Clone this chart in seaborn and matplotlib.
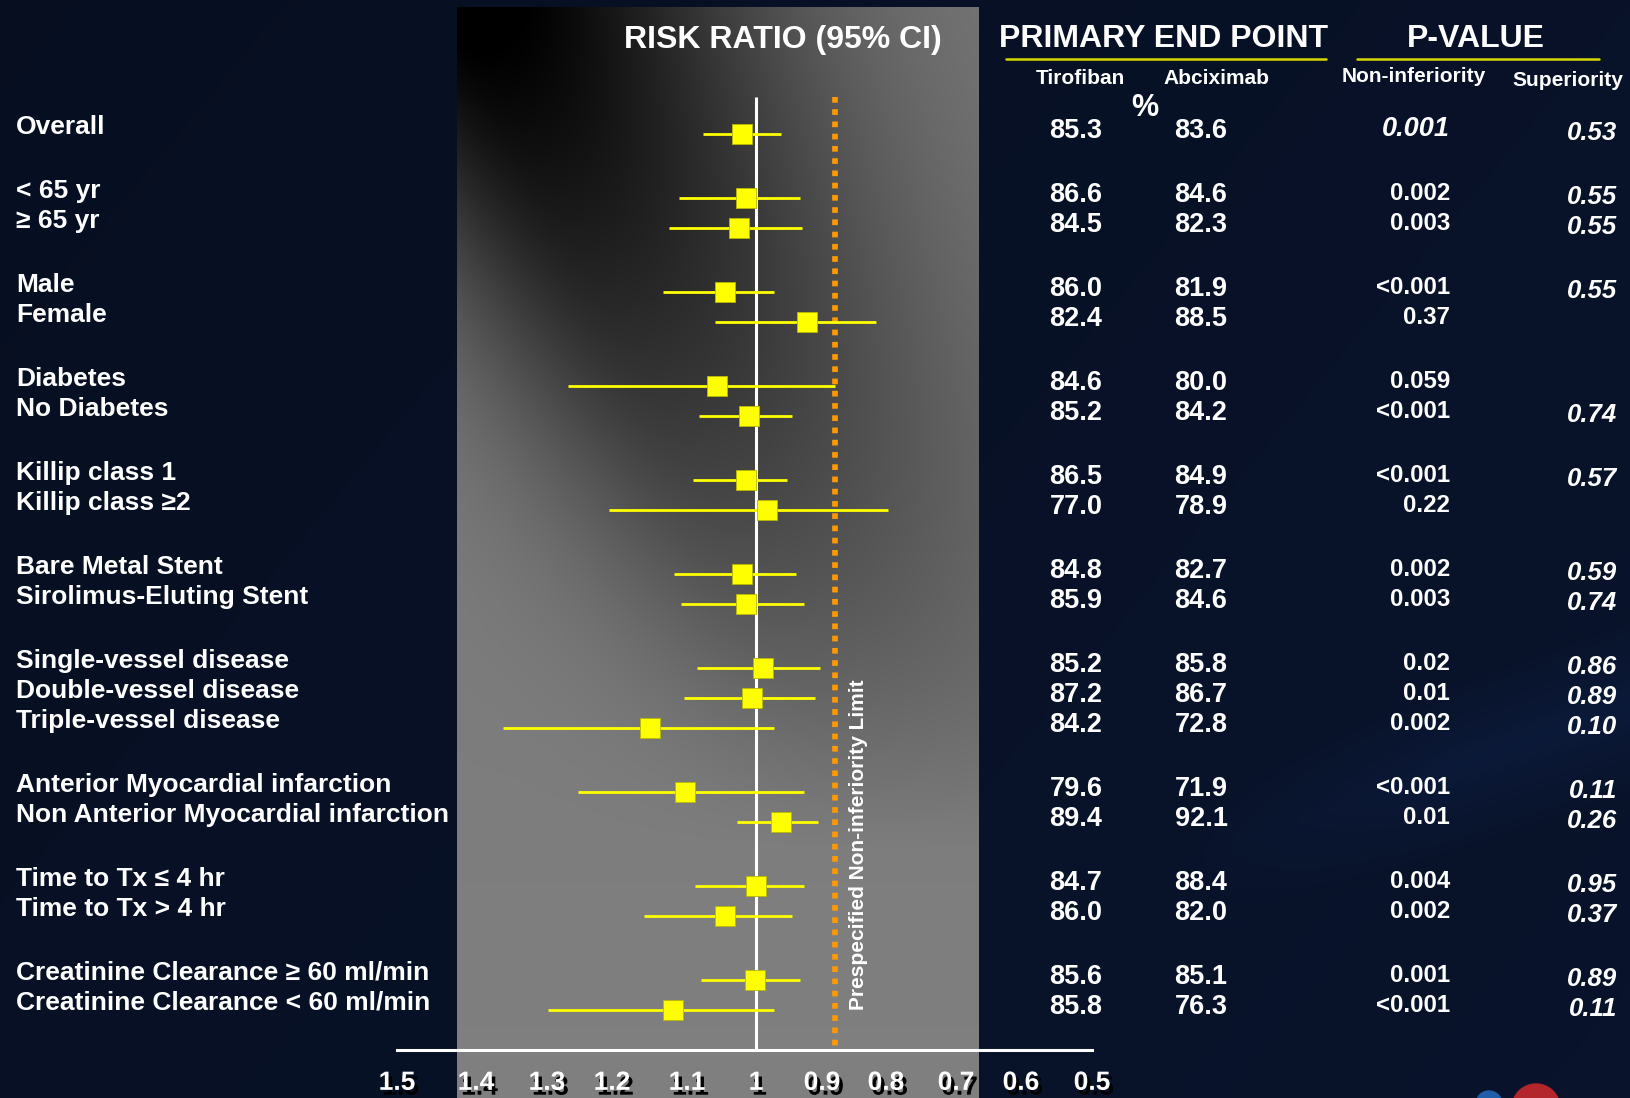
import numpy as np
import pandas as pd
import matplotlib
matplotlib.use("Agg")
import matplotlib.pyplot as plt
import matplotlib.patheffects as pe
from matplotlib.patches import Circle
import seaborn as sns

# ---------------------------------------------------------------- data
subgroups = [
    "Overall",
    "< 65 yr", "≥ 65 yr",
    "Male", "Female",
    "Diabetes", "No Diabetes",
    "Killip class 1", "Killip class ≥2",
    "Bare Metal Stent", "Sirolimus-Eluting Stent",
    "Single-vessel disease", "Double-vessel disease", "Triple-vessel disease",
    "Anterior Myocardial infarction", "Non Anterior Myocardial infarction",
    "Time to Tx ≤ 4 hr", "Time to Tx > 4 hr",
    "Creatinine Clearance ≥ 60 ml/min", "Creatinine Clearance < 60 ml/min",
]
group_sizes = [1, 2, 2, 2, 2, 2, 3, 2, 2, 2]

risk_ratio = [1.020, 1.015, 1.024, 1.045, 0.923, 1.056, 1.010, 1.015, 0.984,
              1.021, 1.015, 0.989, 1.006, 1.149, 1.103, 0.962, 1.000, 1.045,
              1.002, 1.119]
ci_upper = [1.077, 1.111, 1.124, 1.132, 1.059, 1.268, 1.083, 1.091, 1.205,
            1.118, 1.108, 1.086, 1.104, 1.362, 1.252, 1.027, 1.088, 1.157,
            1.080, 1.298]
ci_lower = [0.962, 0.933, 0.931, 0.973, 0.815, 0.880, 0.945, 0.953, 0.797,
            0.939, 0.928, 0.903, 0.911, 0.972, 0.928, 0.906, 0.927, 0.945,
            0.934, 0.972]

tirofiban = ["85.3", "86.6", "84.5", "86.0", "82.4", "84.6", "85.2", "86.5",
             "77.0", "84.8", "85.9", "85.2", "87.2", "84.2", "79.6", "89.4",
             "84.7", "86.0", "85.6", "85.8"]
abciximab = ["83.6", "84.6", "82.3", "81.9", "88.5", "80.0", "84.2", "84.9",
             "78.9", "82.7", "84.6", "85.8", "86.7", "72.8", "71.9", "92.1",
             "88.4", "82.0", "85.1", "76.3"]
p_noninferiority = ["0.001", "0.002", "0.003", "<0.001", "0.37", "0.059",
                    "<0.001", "<0.001", "0.22", "0.002", "0.003", "0.02",
                    "0.01", "0.002", "<0.001", "0.01", "0.004", "0.002",
                    "0.001", "<0.001"]
p_superiority = ["0.53", "0.55", "0.55", "0.55", "", "", "0.74", "0.57", "",
                 "0.59", "0.74", "0.86", "0.89", "0.10", "0.11", "0.26",
                 "0.95", "0.37", "0.89", "0.11"]

ni_limit = 0.88
tick_values = [1.5, 1.4, 1.3, 1.2, 1.1, 1.0, 0.9, 0.8, 0.7, 0.6, 0.5]
tick_labels = ["1.5", "1.4", "1.3", "1.2", "1.1", "1", "0.9", "0.8", "0.7",
               "0.6", "0.5"]

# ---------------------------------------------------------------- layout
W, H = 1630, 1098
FONT = ["Liberation Sans", "DejaVu Sans"]

# hand-ruled axis: pixel column of every tick (1.5 ... 0.5)
axis_px = np.array([397, 476, 547, 612, 687, 756, 822, 886, 956, 1021, 1092],
                   dtype=float)
_vals_asc = np.array(tick_values[::-1])
_neg_px_asc = -axis_px[::-1]


def ruler_forward(v):
    return np.interp(v, _vals_asc, _neg_px_asc, left=-axis_px[-1] - 1, right=-axis_px[0] + 1)


def ruler_inverse(u):
    return np.interp(u, _neg_px_asc, _vals_asc)


# row positions (pixels from top): fixed pitch inside a group, wider gap between groups
ypos = []
y = 134.0
for g, n in enumerate(group_sizes):
    if g > 0:
        y += 64.0
    for i in range(n):
        if i > 0:
            y += 30.0
        ypos.append(y)

df = pd.DataFrame({
    "subgroup": subgroups, "rr": risk_ratio, "lo": ci_lower, "hi": ci_upper,
    "y": ypos,
})

sns.set_style("dark")
plt.rcParams["font.family"] = FONT
plt.rcParams["font.weight"] = "bold"

fig = plt.figure(figsize=(W / 100, H / 100), dpi=100)

# background canvas in pixel units
bg = fig.add_axes([0, 0, 1, 1])
bg.set_xlim(0, W)
bg.set_ylim(H, 0)
bg.axis("off")

# navy backdrop
yy, xx = np.mgrid[0:H, 0:W].astype(float)
base = np.array([0.033, 0.072, 0.160])
shade = 0.80 + 0.18 * (xx / W) + 0.10 * (yy / H)
streak = np.clip(1 - np.abs((yy - 820) + 0.35 * (xx - 1300)) / 90.0, 0, 1) * (xx > 1150)
shade = shade + 0.35 * streak * np.clip((xx - 1150) / 300, 0, 1)
navy = np.clip(base[None, None, :] * shade[..., None], 0, 1)
bg.imshow(navy, extent=(0, W, H, 0), aspect="auto", zorder=0)

# grey panel behind the plot, dark diagonal sweep from the upper left
px0, px1, py0 = 457, 979, 7
ph, pw = H - py0, px1 - px0
gy, gx = np.mgrid[0:ph, 0:pw].astype(float)
gx_abs = gx + px0
gy_abs = gy + py0
xc = px0 + 0.52 * (gy_abs - py0)
d = gx_abs - xc
width = np.where(d >= 0, 300.0, 180.0)
amp = 0.5 * np.clip(1 - gy_abs / 850.0, 0, 1)
grey = 0.5 - 0.03 * np.clip(1 - gy_abs / H, 0, 1) - amp * np.exp(-(d / width) ** 2)
grey = np.clip(grey, 0, 1)
panel = np.dstack([grey, grey, grey])
bg.imshow(panel, extent=(px0, px1, H, py0), aspect="auto", zorder=1)

# logo balls in the corner
bg.add_patch(Circle((1489, 1104), 13, color="#1f5ea8", zorder=2))
bg.add_patch(Circle((1536, 1108), 24, color="#b3262b", zorder=2))

# ---------------------------------------------------------------- forest plot
ax = fig.add_axes([axis_px[0] / W, 0, (axis_px[-1] - axis_px[0]) / W, 1])
ax.patch.set_alpha(0)
ax.set_xscale("function", functions=(ruler_forward, ruler_inverse))
ax.set_xlim(1.5, 0.5)
ax.set_ylim(H, 0)

axis_y = 1050
top_y = 97
ax.plot([1, 1], [top_y, axis_y], color="white", lw=2.2, zorder=2,
        solid_capstyle="butt")
ax.plot([ni_limit, ni_limit], [top_y, axis_y], color="#FF9900", lw=4.1,
        linestyle=(0, (1, 1.15)), zorder=3)

ax.hlines(df["y"], df["lo"], df["hi"], color="#FFFF00", lw=2.0, zorder=4)
sns.scatterplot(data=df, x="rr", y="y", marker="s", s=225, color="#FFFF00",
                edgecolor="#b8b800", linewidth=0.6, ax=ax, zorder=5,
                legend=False)
ax.set_xlim(1.5, 0.5)
ax.set_ylim(H, 0)
ax.set_xlabel("")
ax.set_ylabel("")
ax.grid(False)

for side in ["top", "left", "right"]:
    ax.spines[side].set_visible(False)
ax.spines["bottom"].set_position(("data", axis_y))
ax.spines["bottom"].set_color("white")
ax.spines["bottom"].set_linewidth(2.2)
ax.set_yticks([])
ax.set_xticks(tick_values)
ax.set_xticklabels(tick_labels)
ax.xaxis.set_minor_locator(matplotlib.ticker.NullLocator())
ax.tick_params(axis="x", direction="out", length=16, width=1.6, color="white",
               pad=-1, labelsize=19, labelcolor="white")
for lab in ax.get_xticklabels():
    lab.set_fontweight("bold")
    lab.set_path_effects([pe.withSimplePatchShadow(offset=(2.5, -3.5),
                                                   shadow_rgbFace="black",
                                                   alpha=1.0)])

bg.text(859, 845, "Prespecified Non-inferiority Limit", rotation=90,
        ha="center", va="center", color="white", fontsize=15,
        fontweight="bold", zorder=6)

# ---------------------------------------------------------------- text columns
txt = dict(color="white", fontweight="bold", zorder=6)

for name, yv in zip(subgroups, ypos):
    bg.text(16, yv - 7, name, ha="left", va="center", fontsize=19, **txt)

for i, yv in enumerate(ypos):
    bg.text(1076, yv - 3, tirofiban[i], ha="center", va="center",
            fontsize=19.5, **txt)
    bg.text(1201, yv - 3, abciximab[i], ha="center", va="center",
            fontsize=19.5, **txt)
    if i == 0:
        # overall row printed in italics like the superiority column
        bg.text(1450, yv - 5, p_noninferiority[i], ha="right", va="center",
                fontsize=19.5, fontstyle="italic", **txt)
    else:
        bg.text(1450, yv - 4, p_noninferiority[i], ha="right", va="center",
                fontsize=17.3, **txt)
    if p_superiority[i]:
        bg.text(1617, yv - 1, p_superiority[i], ha="right", va="center",
                fontsize=18.5, fontstyle="italic", **txt)

# headers
bg.text(783, 40, "RISK RATIO (95% CI)", ha="center", va="center",
        fontsize=23, **txt)
bg.text(1164, 39, "PRIMARY END POINT", ha="center", va="center",
        fontsize=23, **txt)
bg.text(1476, 39, "P-VALUE", ha="center", va="center", fontsize=23, **txt)
bg.plot([1006, 1326], [59, 59], color="#d8d800", lw=1.8, zorder=6)
bg.plot([1357, 1599], [59, 59], color="#d8d800", lw=1.8, zorder=6)

bg.text(1080, 78, "Tirofiban", ha="center", va="center", fontsize=15, **txt)
bg.text(1216, 78, "Abciximab", ha="center", va="center", fontsize=15, **txt)
bg.text(1414, 77, "Non-inferiority", ha="center", va="center", fontsize=15,
        **txt)
bg.text(1568, 80, "Superiority", ha="center", va="center", fontsize=15, **txt)
bg.text(1145, 108, "%", ha="center", va="center", fontsize=22, **txt)

fig.savefig("out.png", dpi=100)
